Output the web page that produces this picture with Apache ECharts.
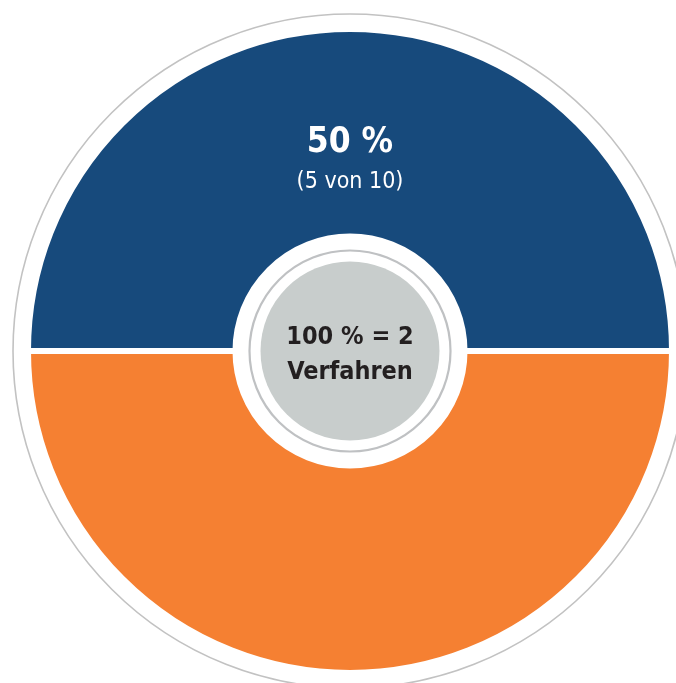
<!DOCTYPE html>
<html>
<head>
<meta charset="utf-8">
<script src="https://cdn.jsdelivr.net/npm/echarts@6/dist/echarts.min.js"></script>
<style>
html,body{margin:0;padding:0;background:#fff;}
#chart{width:676px;height:683px;}
</style>
</head>
<body>
<div id="chart"></div>
<script>
// Data
const categories = ['Anteil A', 'Anteil B'];
const counts = [5, 5];
const totalCount = 10;
const percents = [50, 50];
const centerLines = ['100 % = 2', 'Verfahren'];
const colors = ['#174a7c', '#f58032'];

const FONT = '"DejaVu Sans Condensed", "DejaVu Sans", sans-serif';
const CX = 350, CY = 351;

const chart = echarts.init(document.getElementById('chart'), null, {renderer: 'canvas'});
chart.setOption({
  backgroundColor: '#ffffff',
  animation: false,
  graphic: [
    {type: 'circle', shape: {cx: CX, cy: CY, r: 337}, style: {fill: 'none', stroke: '#c2c2c2', lineWidth: 1.6}, z: -1, silent: true},
    {type: 'circle', shape: {cx: CX, cy: CY, r: 100.5}, style: {fill: 'none', stroke: '#bfc1c3', lineWidth: 2.2}, z: 5, silent: true},
    {type: 'circle', shape: {cx: CX, cy: CY, r: 89.5}, style: {fill: '#c8cdcc'}, z: 5, silent: true},
    {type: 'text', x: CX, y: CY - 13.5, style: {text: centerLines[0], font: 'bold 25px ' + FONT, fill: '#231f20', align: 'center', verticalAlign: 'middle'}, z: 6, silent: true},
    {type: 'text', x: CX, y: CY + 21.5, style: {text: centerLines[1], font: 'bold 25px ' + FONT, fill: '#231f20', align: 'center', verticalAlign: 'middle'}, z: 6, silent: true}
  ],
  series: [{
    type: 'pie',
    center: [CX, CY],
    radius: [114.5, 322],
    startAngle: 180,
    clockwise: true,
    silent: true,
    emphasis: {disabled: true},
    itemStyle: {borderColor: '#ffffff', borderWidth: 6},
    labelLine: {show: false},
    labelLayout: {dy: 33},
    data: categories.map((name, i) => ({
      name: name,
      value: counts[i],
      itemStyle: {color: colors[i]},
      label: {
        show: i === 0,
        position: 'inside',
        formatter: () => '{a|' + percents[i] + ' %}\n{b|(' + counts[i] + ' von ' + totalCount + ')}',
        rich: {
          a: {fontFamily: FONT, fontWeight: 'bold', fontSize: 35, color: '#ffffff', lineHeight: 39, align: 'center'},
          b: {fontFamily: FONT, fontWeight: 'normal', fontSize: 23, color: '#ffffff', lineHeight: 39, align: 'center'}
        }
      }
    }))
  }]
});
</script>
</body>
</html>
